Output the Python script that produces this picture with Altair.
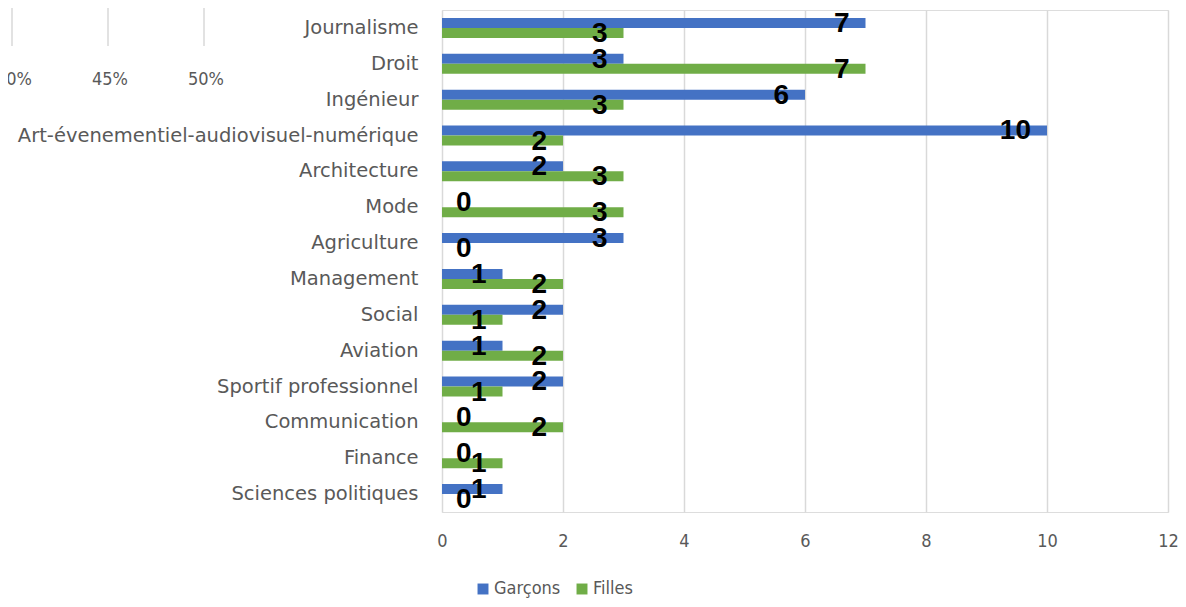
import altair as alt
import pandas as pd

categories = ["Journalisme", "Droit", "Ingénieur", "Art-évenementiel-audiovisuel-numérique",
              "Architecture", "Mode", "Agriculture", "Management", "Social", "Aviation",
              "Sportif professionnel", "Communication", "Finance", "Sciences politiques"]
garcons = [7, 3, 6, 10, 2, 0, 3, 1, 2, 1, 2, 0, 0, 1]
filles = [3, 7, 3, 2, 3, 3, 0, 2, 1, 2, 1, 2, 1, 0]
series = ["Garçons", "Filles"]
colors = ["#4472C4", "#70AD47"]
x_ticks = [0, 2, 4, 6, 8, 10, 12]
stray_pct = [0.40, 0.45, 0.50]
stray_labels = ["40%", "45%", "50%"]

rows = []
for c, g, f in zip(categories, garcons, filles):
    rows.append({"cat": c, "serie": "Garçons", "v": g})
    rows.append({"cat": c, "serie": "Filles", "v": f})
df = pd.DataFrame(rows)
stray = pd.DataFrame({"p": stray_pct, "t": stray_labels})

FONT = "Liberation Sans"
YFONT = "DejaVu Sans"
LFONT = "DejaVu Sans Condensed, Liberation Sans Narrow, Liberation Sans"
GRAY = "#595959"

y_enc = alt.Y("cat:N", sort=categories, title=None,
              scale=alt.Scale(paddingInner=0.442, paddingOuter=0.221),
              axis=alt.Axis(labelFont=YFONT, labelFontSize=19.5, labelColor=GRAY,
                            labelPadding=24, ticks=False, domain=False, grid=False,
                            labelLimit=500))
x_enc = alt.X("v:Q", title=None,
              scale=alt.Scale(domain=[0, 12], nice=False),
              axis=alt.Axis(values=x_ticks, format="d", labelFont=LFONT, labelFontSize=18,
                            labelColor=GRAY, labelPadding=20, ticks=False, labelFlush=False,
                            domain=False, grid=True, gridColor="#D9D9D9",
                            gridWidth=1.5))
yoff = alt.YOffset("serie:N", sort=series, scale=alt.Scale(paddingInner=0, paddingOuter=0))

base = alt.Chart(df)

bars = base.mark_bar(size=10).encode(
    x=x_enc, y=y_enc, yOffset=yoff,
    color=alt.Color("serie:N", sort=series,
                    scale=alt.Scale(domain=series, range=colors),
                    legend=alt.Legend(title=None, orient="none", legendX=32, legendY=570,
                                      direction="horizontal", symbolType="square",
                                      symbolSize=120, symbolStrokeWidth=0,
                                      labelFont=LFONT, labelFontSize=18,
                                      labelColor=GRAY, columnPadding=12,
                                      labelOffset=2)),
)

txt_nz = base.transform_filter("datum.v > 0").mark_text(
    font=FONT, fontSize=28, fontWeight="bold", color="black",
    align="right", baseline="middle", dx=-16, dy=1
).encode(x=alt.X("v:Q", scale=alt.Scale(domain=[0, 12], nice=False)),
         y=alt.Y("cat:N", sort=categories), yOffset=yoff, text="v:Q")

txt_z = base.transform_filter("datum.v == 0").mark_text(
    font=FONT, fontSize=28, fontWeight="bold", color="black",
    align="left", baseline="middle", dx=14, dy=1
).encode(x=alt.X("v:Q", scale=alt.Scale(domain=[0, 12], nice=False)),
         y=alt.Y("cat:N", sort=categories), yOffset=yoff, text="v:Q")

main = alt.layer(bars, txt_nz, txt_z)

sx = alt.X("p:Q", axis=None, scale=alt.Scale(domain=[0.40, 0.50], range=[-430, -238], nice=False, zero=False))
stray_rules = alt.Chart(stray).mark_rule(color="#D9D9D9", strokeWidth=1.5).encode(
    x=sx, y=alt.value(-12), y2=alt.value(36))
stray_text = alt.Chart(stray).mark_text(font=LFONT, fontSize=18, color=GRAY,
                                        baseline="middle", dx=2).encode(
    x=sx, y=alt.value(70), text="t:N")

chart = alt.layer(main, stray_rules, stray_text).resolve_scale(x="independent").properties(
    width=726, height=502,
    autosize=alt.AutoSizeParams(type="none"),
    padding={"left": 434, "top": 2, "right": 10, "bottom": 87},
).configure_view(stroke=None).configure(background="white")

chart.save("out.html", embed_options={"renderer": "svg", "actions": False})
